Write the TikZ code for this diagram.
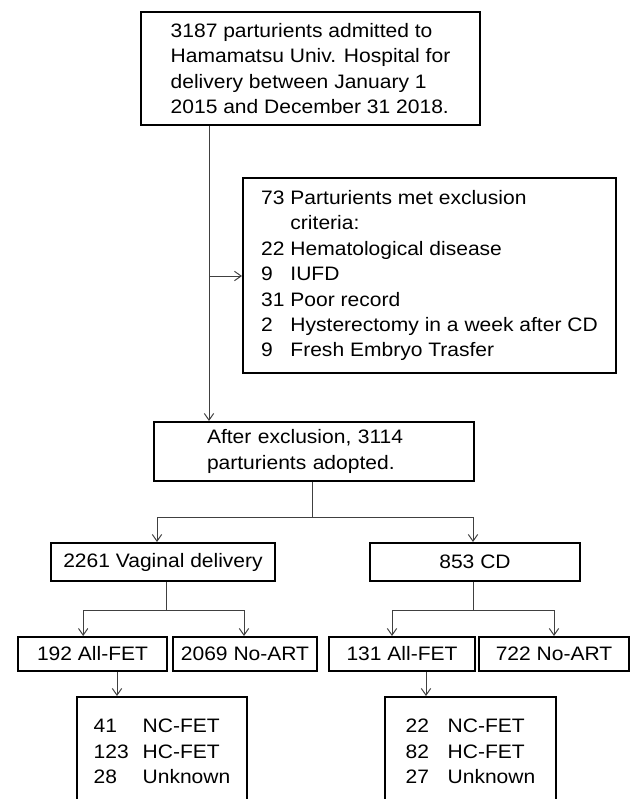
\documentclass[tikz,border=0pt]{standalone}
\usepackage{fontspec}
\setmainfont{Liberation Sans}[FakeStretch=1.08]
\usetikzlibrary{arrows.meta}
\begin{document}
\begin{tikzpicture}[x=0.75pt,y=-0.75pt,
  box/.style={draw=black,line width=1.5pt,inner sep=0pt,align=left,
    font=\fontsize{14.6}{19.1}\selectfont},
  conn/.style={draw=black!75,line width=0.75pt},
  arr/.style={conn,-{Straight Barb[length=5pt,width=7pt]}}]
\useasboundingbox (0,0) rectangle (632,799);
\node[box,minimum width=254.25pt,minimum height=84.75pt] (top) at (310.5,68.5)
  {3187 parturients admitted to\\Hamamatsu Univ. Hospital for\\delivery between January 1\\2015 and December 31 2018.};
\node[box,minimum width=279.75pt,minimum height=146.25pt] (excl) at (429.5,275.5)
  {\begin{tabular}{@{}l@{\ }l@{}}
  73 & Parturients met exclusion\\
     & criteria:\\
  22 & Hematological disease\\
  9  & IUFD\\
  31 & Poor record\\
  2  & Hysterectomy in a week after CD\\
  9  & Fresh Embryo Trasfer
  \end{tabular}};
\node[box,minimum width=240pt,minimum height=44.25pt,text width=160.5pt] (after) at (314,451.5)
  {After exclusion, 3114\\parturients adopted.};
\node[box,minimum width=168pt,minimum height=28.5pt] (vag) at (163,562) {2261 Vaginal delivery};
\node[box,minimum width=157.5pt,minimum height=28.5pt] (cd) at (475,562) {853 CD};
\node[box,minimum width=111.75pt,minimum height=25.5pt] (af1) at (92.5,654) {192 All-FET};
\node[box,minimum width=108pt,minimum height=25.5pt] (na1) at (245,654) {2069 No-ART};
\node[box,minimum width=109.5pt,minimum height=25.5pt] (af2) at (402,654) {131 All-FET};
\node[box,minimum width=112.5pt,minimum height=25.5pt] (na2) at (554,654) {722 No-ART};
\node[box,minimum width=127.5pt,minimum height=84pt] (b1) at (162,753)
  {\begin{tabular}{@{}p{36.75pt}@{}l@{}}
  41 & NC-FET\\ 123 & HC-FET\\ 28 & Unknown
  \end{tabular}};
\node[box,minimum width=128.25pt,minimum height=84pt] (b2) at (470.5,753)
  {\begin{tabular}{@{}p{31.5pt}@{}l@{}}
  22 & NC-FET\\ 82 & HC-FET\\ 27 & Unknown
  \end{tabular}};
% connectors
\coordinate (j1) at (209,276);
\draw[arr] (top.south -| j1) -- (after.north -| j1);
\draw[arr] (j1) -- (excl.west |- j1);
\coordinate (s1) at (312,517);
\draw[conn] (after.south -| s1) -- (s1);
\draw[arr] (s1) -| ([xshift=-4.5pt]vag.north);
\draw[arr] (s1) -| ([xshift=-1.5pt]cd.north);
\coordinate (s2) at (166,610);
\draw[conn] (vag.south -| s2) -- (s2);
\draw[arr] (s2) -| ([xshift=-7pt]af1.north);
\draw[arr] (s2) -| ([xshift=-0.75pt]na1.north);
\coordinate (s3) at (473,610);
\draw[conn] (cd.south -| s3) -- (s3);
\draw[arr] (s3) -| ([xshift=-7.5pt]af2.north);
\draw[arr] (s3) -| (na2.north);
\coordinate (s4) at (117,0);
\draw[arr] (af1.south -| s4) -- (b1.north -| s4);
\coordinate (s5) at (426,0);
\draw[arr] (af2.south -| s5) -- (b2.north -| s5);
\end{tikzpicture}
\end{document}
